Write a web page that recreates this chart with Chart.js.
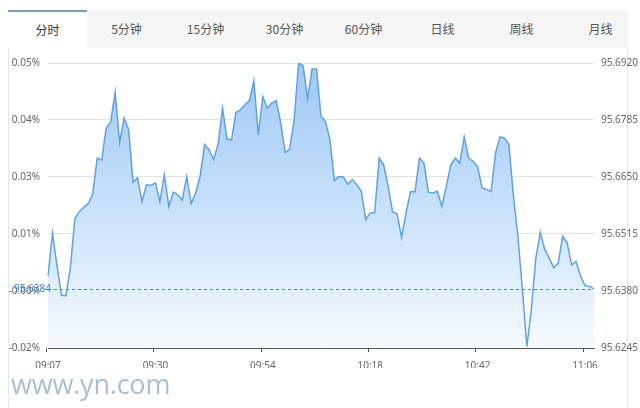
<!DOCTYPE html>
<html>
<head>
<meta charset="utf-8">
<script src="https://cdn.jsdelivr.net/npm/chart.js@4.4.1/dist/chart.umd.min.js"></script>
<style>
html,body{margin:0;padding:0;width:640px;height:408px;overflow:hidden;background:#fff;}
#frame{position:absolute;left:8px;top:10px;width:620px;height:398px;border-left:1px solid #e6e6e6;border-right:1px solid #e6e6e6;box-sizing:border-box;}
#tabs{position:absolute;left:8px;top:10px;width:620px;height:38px;background:#f5f5f5;}
.tab{position:absolute;top:0;height:38px;line-height:38px;width:79px;text-align:center;font-family:"Noto Sans CJK SC","Noto Sans",sans-serif;font-size:12px;color:#555;}
.tab.active{background:#fff;border-top:2px solid #8099b4;height:36px;line-height:36px;color:#333;}
#wm{position:absolute;left:11px;top:366px;font-family:"Open Sans",sans-serif;font-weight:400;font-size:27px;line-height:36px;color:#a9bed2;letter-spacing:-0.2px;}
#c{position:absolute;left:0;top:0;}
</style>
</head>
<body>
<div id="frame"></div>
<div id="tabs"></div>
<canvas id="c" width="640" height="408"></canvas>
<div id="wm">www.yn.com</div>
<script>
// ---- data ----
const tabNames = ['分时','5分钟','15分钟','30分钟','60分钟','日线','周线','月线'];
const tickLabels = ['09:07','09:30','09:54','10:18','10:42','11:06'];
const tickEvery = 24;
const priceTicks = [95.6245, 95.6380, 95.6515, 95.6650, 95.6785, 95.6920];
const pctLabels = ['-0.02%','-0.00%','0.01%','0.03%','0.04%','0.05%'];
const prevClose = 95.6384;
const prices = [
 95.6415,95.6517,95.6440,95.6370,95.6369,95.6435,95.6551,95.6568,95.6578,95.6587,
 95.6610,95.6695,95.6690,95.6766,95.6780,95.6851,95.6732,95.6790,95.6763,95.6638,
 95.6648,95.6592,95.6632,95.6630,95.6636,95.6592,95.6655,95.6580,95.6614,95.6608,
 95.6595,95.6651,95.6587,95.6612,95.6653,95.6727,95.6715,95.6691,95.6727,95.6813,
 95.6740,95.6738,95.6803,95.6809,95.6821,95.6831,95.6878,95.6750,95.6840,95.6813,
 95.6825,95.6831,95.6778,95.6708,95.6716,95.6786,95.6920,95.6914,95.6835,95.6906,
 95.6906,95.6794,95.6782,95.6738,95.6642,95.6651,95.6650,95.6633,95.6644,95.6632,
 95.6616,95.6549,95.6565,95.6566,95.6695,95.6679,95.6628,95.6567,95.6563,95.6507,
 95.6565,95.6615,95.6615,95.6695,95.6683,95.6614,95.6612,95.6616,95.6580,95.6628,
 95.6679,95.6695,95.6683,95.6745,95.6695,95.6687,95.6674,95.6624,95.6620,95.6616,
 95.6707,95.6745,95.6742,95.6727,95.6604,95.6509,95.6383,95.6249,95.6336,95.6458,
 95.6519,95.6478,95.6458,95.6435,95.6446,95.6509,95.6494,95.6442,95.6450,95.6415,
 95.6393,95.6391,95.6385
];
const categories = prices.map((_, i) => (i % tickEvery === 0 && tickLabels[i / tickEvery]) ? tickLabels[i / tickEvery] : '');

// ---- tabs ----
const tabsEl = document.getElementById('tabs');
tabNames.forEach((t, i) => {
  const d = document.createElement('div');
  d.className = 'tab' + (i === 0 ? ' active' : '');
  d.style.left = (i * 79) + 'px';
  d.textContent = t;
  tabsEl.appendChild(d);
});

const tickFont = {family: '"Noto Sans", "DejaVu Sans", sans-serif', size: 10};

const refLinePlugin = {
  id: 'refLine',
  afterDatasetsDraw(chart) {
    const {ctx, chartArea} = chart;
    const ys = chart.scales.y;
    const xs = chart.scales.x;
    const y = Math.round(ys.getPixelForValue(prevClose)) + 0.5;
    ctx.save();
    ctx.strokeStyle = 'rgb(74,132,214)';
    ctx.lineWidth = 1;
    ctx.setLineDash([3, 3]);
    ctx.beginPath();
    ctx.moveTo(chartArea.left, y);
    ctx.lineTo(chartArea.right, y);
    ctx.stroke();
    ctx.setLineDash([]);
    ctx.fillStyle = '#3f7fcc';
    ctx.font = '10px "Noto Sans", sans-serif';
    ctx.textAlign = 'right';
    ctx.textBaseline = 'middle';
    ctx.fillText(prevClose.toFixed(4), chartArea.left + 3, y);
    // x axis tick marks (between categories)
    ctx.strokeStyle = '#555';
    ctx.beginPath();
    tickLabels.forEach((_, k) => {
      const x = Math.round(xs.getPixelForValue(k * tickEvery - 0.5)) + 0.5;
      ctx.moveTo(x, chartArea.bottom);
      ctx.lineTo(x, chartArea.bottom + 4);
    });
    ctx.stroke();
    ctx.restore();
  }
};

new Chart(document.getElementById('c'), {
  type: 'line',
  data: {
    labels: categories,
    datasets: [{
      data: prices,
      borderColor: 'rgb(96,161,226)',
      borderWidth: 1.5,
      pointRadius: 0,
      tension: 0,
      fill: 'start',
      backgroundColor: (c) => {
        const a = c.chart.chartArea;
        if (!a) return 'rgba(160,200,245,0.5)';
        const g = c.chart.ctx.createLinearGradient(0, a.top, 0, a.bottom);
        g.addColorStop(0, 'rgb(158,200,245)');
        g.addColorStop(0.55, 'rgb(204,227,250)');
        g.addColorStop(1, 'rgb(246,250,255)');
        return g;
      }
    }]
  },
  options: {
    responsive: false,
    animation: false,
    devicePixelRatio: 1,
    layout: {padding: {top: 63, bottom: 40, left: 0, right: 0}},
    plugins: {legend: {display: false}, tooltip: {enabled: false}},
    scales: {
      x: {
        type: 'category',
        offset: false,
        grid: {display: false},
        border: {display: true, color: '#555', width: 1},
        ticks: {autoSkip: false, maxRotation: 0, minRotation: 0, padding: 4, color: '#666', font: tickFont},
        afterFit: (s) => { s.height = 20; }
      },
      y: {
        type: 'linear',
        position: 'left',
        min: priceTicks[0],
        max: priceTicks[priceTicks.length - 1],
        afterBuildTicks: (s) => { s.ticks = priceTicks.map(v => ({value: v})); },
        grid: {
          drawTicks: false,
          color: (c) => (c.tick && (Math.abs(c.tick.value - priceTicks[0]) < 1e-6 || Math.abs(c.tick.value - priceTicks[1]) < 1e-6)) ? 'rgba(0,0,0,0)' : '#e2e2e2'
        },
        border: {display: false},
        ticks: {padding: 8, color: '#666', font: tickFont, callback: (v, i) => pctLabels[i]},
        afterFit: (s) => { s.width = 48; }
      },
      y2: {
        type: 'linear',
        position: 'right',
        min: priceTicks[0],
        max: priceTicks[priceTicks.length - 1],
        afterBuildTicks: (s) => { s.ticks = priceTicks.map(v => ({value: v})); },
        grid: {display: false, drawTicks: false},
        border: {display: false},
        ticks: {padding: 7, color: '#666', font: tickFont, callback: (v) => Number(v).toFixed(4)},
        afterFit: (s) => { s.width = 46; }
      }
    }
  },
  plugins: [refLinePlugin]
});
</script>
</body>
</html>
